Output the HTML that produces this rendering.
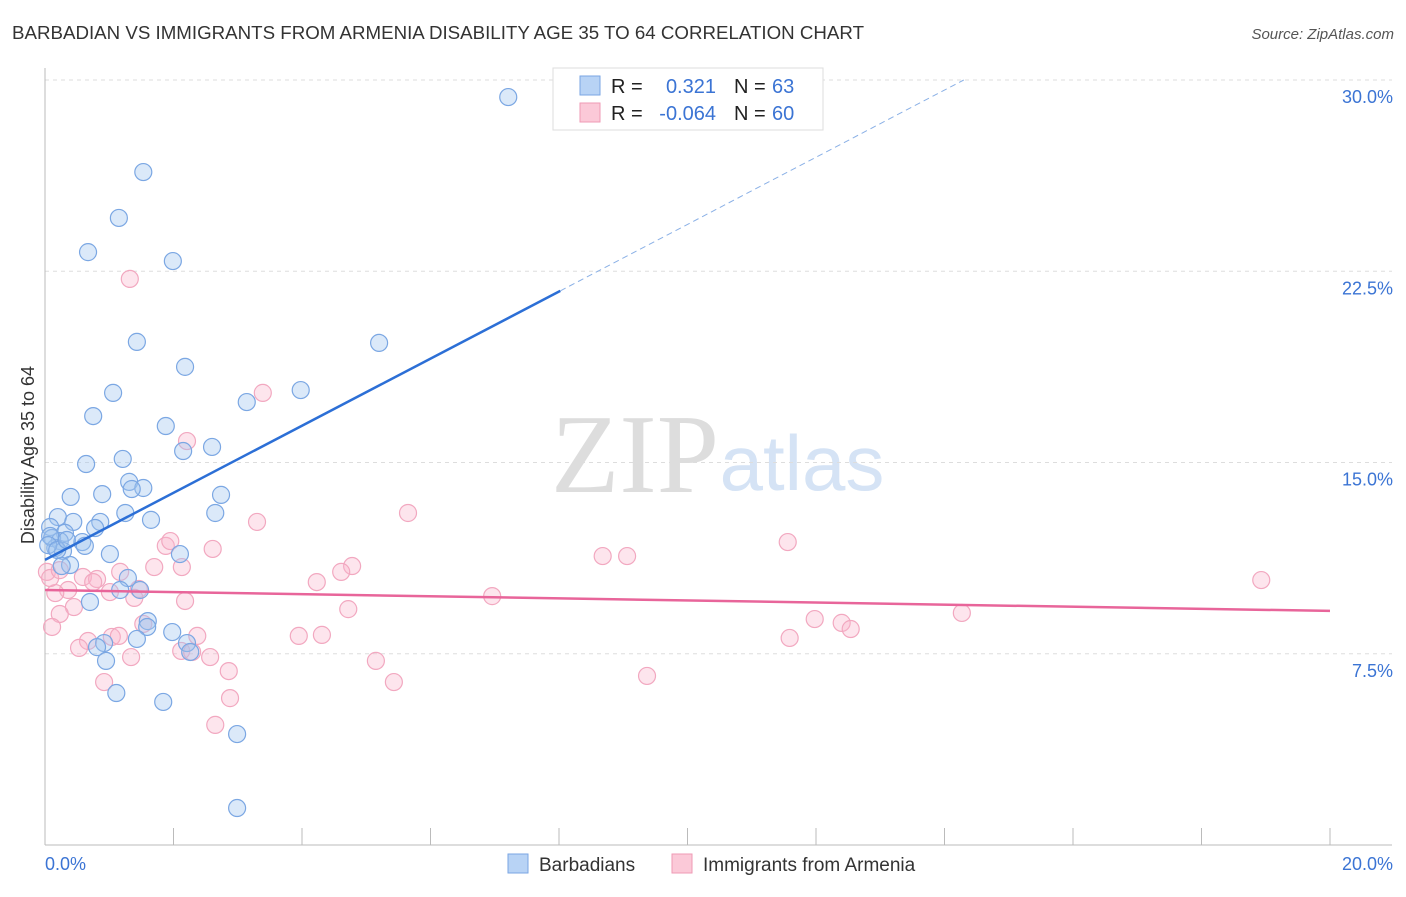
<!DOCTYPE html>
<html><head><meta charset="utf-8"><style>
body{margin:0;background:#fff;font-family:"Liberation Sans",sans-serif}
</style></head><body>
<svg id="c" width="1406" height="892" xmlns="http://www.w3.org/2000/svg">
<text x="12" y="39" font-size="18" fill="#333" textLength="852" lengthAdjust="spacingAndGlyphs">BARBADIAN VS IMMIGRANTS FROM ARMENIA DISABILITY AGE 35 TO 64 CORRELATION CHART</text>
<text x="1394" y="39" font-size="15" fill="#555" font-style="italic" text-anchor="end">Source: ZipAtlas.com</text>
<text x="635" y="492" font-size="112" fill="#ddd" font-family="Liberation Serif,serif" text-anchor="middle">ZIP</text>
<text x="802" y="490" font-size="78" fill="#d5e3f5" text-anchor="middle">atlas</text>
<g id="grid"></g><g id="pts"></g><g id="lines"></g>
<text transform="translate(34,455) rotate(-90)" font-size="18" fill="#333" text-anchor="middle">Disability Age 35 to 64</text>
<g>
<rect x="553" y="68" width="270" height="62" fill="#fff" stroke="#ddd"/>
<rect x="580" y="76" width="20" height="19" fill="#b8d3f5" stroke="#7aa6e3"/>
<rect x="580" y="103" width="20" height="19" fill="#fbc9d8" stroke="#ef9ab5"/>
<text x="611" y="93" font-size="20" fill="#222">R =</text><text x="716" y="93" font-size="20" fill="#3b74d4" text-anchor="end">0.321</text>
<text x="734" y="93" font-size="20" fill="#222">N =</text><text x="772" y="93" font-size="20" fill="#3b74d4">63</text>
<text x="611" y="120" font-size="20" fill="#222">R =</text><text x="716" y="120" font-size="20" fill="#3b74d4" text-anchor="end">-0.064</text>
<text x="734" y="120" font-size="20" fill="#222">N =</text><text x="772" y="120" font-size="20" fill="#3b74d4">60</text>
</g>
<g>
<rect x="508" y="854" width="20" height="19" fill="#b8d3f5" stroke="#7aa6e3"/>
<text x="539" y="871" font-size="19" fill="#333">Barbadians</text>
<rect x="672" y="854" width="20" height="19" fill="#fbc9d8" stroke="#ef9ab5"/>
<text x="703" y="871" font-size="19" fill="#333">Immigrants from Armenia</text>
</g>
</svg>
<script>
const xTicks=[0,20];
const yTicks=[7.5,15,22.5,30];
const blueX=[7.21,1.53,1.15,0.67,1.99,1.43,5.20,2.18,1.06,3.98,3.14,0.75,1.88,2.15,2.60,1.21,0.64,1.31,1.53,1.35,0.40,0.89,2.74,1.25,2.65,1.65,0.20,0.44,0.86,0.08,0.78,0.31,0.11,0.23,0.58,0.62,0.16,0.28,1.01,2.10,0.39,0.26,1.29,1.48,1.17,0.70,1.60,1.59,1.98,1.43,0.92,2.21,2.26,0.81,0.95,1.11,1.84,2.99,2.99,0.08,0.05,0.19,0.34];
const blueY=[29.33,26.39,24.59,23.25,22.90,19.73,19.69,18.75,17.73,17.84,17.37,16.82,16.43,15.45,15.61,15.14,14.94,14.24,14.00,13.96,13.65,13.76,13.73,13.02,13.02,12.75,12.86,12.67,12.67,12.47,12.43,12.24,12.04,11.92,11.88,11.73,11.65,11.53,11.41,11.41,10.98,10.94,10.47,10.00,10.00,9.53,8.78,8.55,8.35,8.08,7.92,7.92,7.57,7.76,7.22,5.96,5.61,4.35,1.45,12.12,11.76,11.57,11.96];
const pinkX=[1.32,3.39,2.21,5.65,3.30,11.56,2.61,8.68,9.06,1.88,1.95,4.78,4.61,2.13,1.70,1.17,0.59,0.81,0.75,4.23,18.93,0.36,0.16,1.01,1.46,1.39,6.96,2.18,4.72,0.45,0.23,14.27,11.98,12.40,12.54,0.11,1.53,2.37,1.04,1.15,3.95,4.31,0.67,0.53,2.12,2.57,2.29,5.15,1.34,11.59,2.86,5.43,9.37,0.92,2.88,2.65,0.03,0.08,0.23];
const pinkY=[22.20,17.73,15.84,13.02,12.67,11.88,11.61,11.33,11.33,11.73,11.92,10.94,10.71,10.90,10.90,10.71,10.51,10.43,10.31,10.31,10.39,10.00,9.88,9.92,10.04,9.69,9.76,9.57,9.25,9.33,9.06,9.10,8.86,8.71,8.47,8.55,8.67,8.20,8.16,8.20,8.20,8.24,8.00,7.73,7.61,7.37,7.57,7.22,7.37,8.12,6.82,6.39,6.63,6.39,5.76,4.71,10.71,10.47,10.78];
const blueTrend=[[0,11.18],[8.02,21.73],[14.3,30]];
const pinkTrend=[[0,10.0],[20,9.18]];
const NS="http://www.w3.org/2000/svg";
const X=v=>45+v/20*1285, Y=v=>845-v/30*765;
function mk(p,t,a){const e=document.createElementNS(NS,t);for(const k in a)e.setAttribute(k,a[k]);p.appendChild(e);return e;}
const g=document.getElementById('grid');
yTicks.forEach(t=>{
 const l=mk(g,'line',{x1:45,x2:1392,y1:Y(t),y2:Y(t),stroke:'#ddd','stroke-dasharray':'4,4'});
 
 
 const tx=mk(g,'text',{x:1393,y:Y(t)+23,'font-size':18,fill:'#3b74d4','text-anchor':'end'});tx.textContent=t.toFixed(1)+'%';
 
 
});
mk(g,'line',{x1:45,x2:45,y1:68,y2:845,stroke:'#bbb'});
mk(g,'line',{x1:45,x2:1392,y1:845,y2:845,stroke:'#bbb'});
for(let i=0;i<=10;i++){mk(g,'line',{x1:X(i*2),x2:X(i*2),y1:828,y2:845,stroke:'#bbb'});}
xTicks.forEach((t,i)=>{const tx=mk(g,'text',{x:i?1393:45,y:870,'font-size':18,fill:'#3b74d4','text-anchor':i?'end':'start'});tx.textContent=t.toFixed(1)+'%';
 
 });
const p=document.getElementById('pts');
pinkX.forEach((x,i)=>{const c=mk(p,'circle',{cx:X(x),cy:Y(pinkY[i]),r:8.5,fill:'rgba(248,180,202,0.35)',stroke:'#f2a8c0','stroke-width':1.2});
 
 });
blueX.forEach((x,i)=>{const c=mk(p,'circle',{cx:X(x),cy:Y(blueY[i]),r:8.5,fill:'rgba(160,196,240,0.38)',stroke:'#7ba7e3','stroke-width':1.2});
 
 });
const L=document.getElementById('lines');
let a=mk(L,'line',{x1:X(blueTrend[0][0]),y1:Y(blueTrend[0][1]),x2:X(blueTrend[1][0]),y2:Y(blueTrend[1][1]),stroke:'#2c6fd6','stroke-width':2.5});


a=mk(L,'line',{x1:X(blueTrend[1][0]),y1:Y(blueTrend[1][1]),x2:X(blueTrend[2][0]),y2:Y(blueTrend[2][1]),stroke:'#8ab0e6','stroke-width':1,'stroke-dasharray':'6,4'});


a=mk(L,'line',{x1:X(pinkTrend[0][0]),y1:Y(pinkTrend[0][1]),x2:X(pinkTrend[1][0]),y2:Y(pinkTrend[1][1]),stroke:'#e8659a','stroke-width':2.5});


</script>
</body></html>
